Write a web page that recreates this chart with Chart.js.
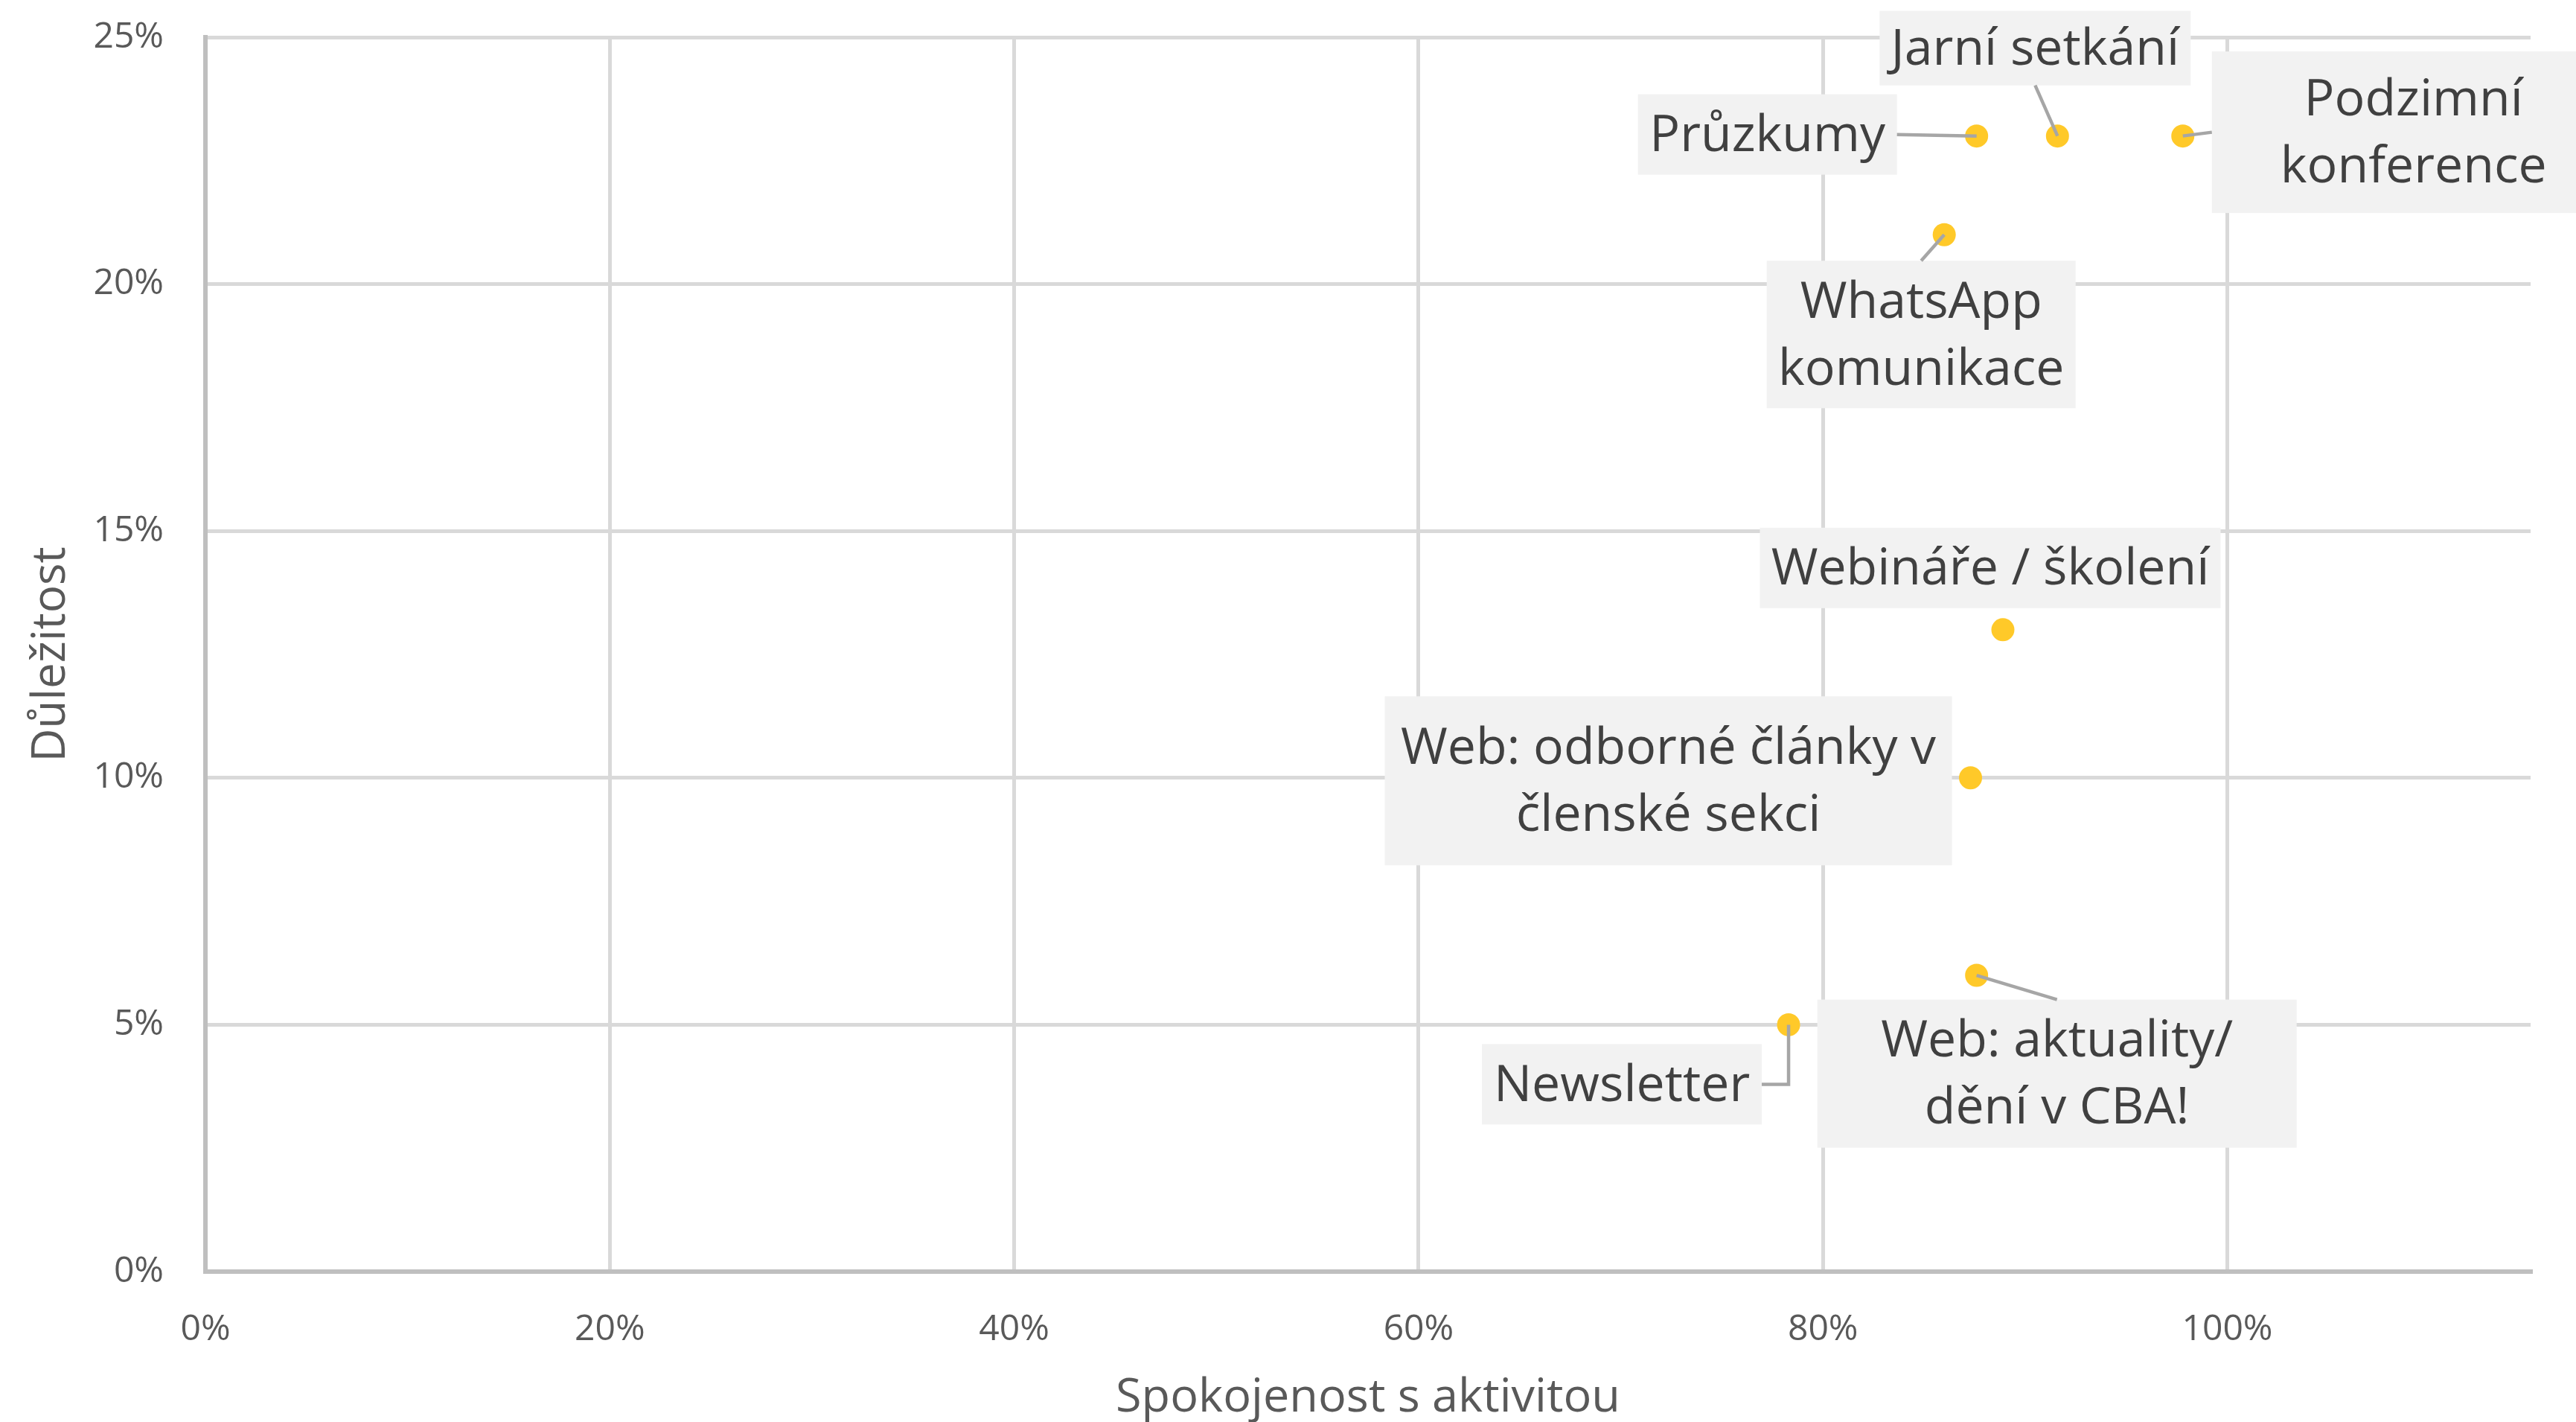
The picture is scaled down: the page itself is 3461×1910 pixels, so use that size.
<!DOCTYPE html>
<html>
<head>
<meta charset="utf-8">
<script src="https://cdn.jsdelivr.net/npm/chart.js@4.4.1/dist/chart.umd.min.js"></script>
<style>
  html, body { margin: 0; padding: 0; background: #ffffff; }
  canvas { display: block; }
</style>
</head>
<body>
<canvas id="c" width="3461" height="1910"></canvas>
<script>
// ---- data ----
const activities = [
  ['Průzkumy'],
  ['Jarní setkání'],
  ['Podzimní', 'konference'],
  ['WhatsApp', 'komunikace'],
  ['Webináře / školení'],
  ['Web: odborné články v', 'členské sekci'],
  ['Web: aktuality/', 'dění v CBA!'],
  ['Newsletter']
];
const satisfaction = [0.876, 0.916, 0.978, 0.860, 0.889, 0.873, 0.876, 0.783];
const importance   = [0.23, 0.23, 0.23, 0.21, 0.13, 0.10, 0.06, 0.05];
const xTicks = [0, 0.2, 0.4, 0.6, 0.8, 1.0];
const yTicks = [0, 0.05, 0.10, 0.15, 0.20, 0.25];
const xTitle = 'Spokojenost s aktivitou';
const yTitle = 'Důležitost';

// ---- callout layout (box size and offset of box centre from the point, px) ----
const calloutLayout = [
  { w: 348, h: 108, dx: -281, dy: -2,   leader: 'right' },
  { w: 418, h: 100, dx: -30,  dy: -118, leader: 'bottom' },
  { w: 542, h: 217, dx: 310,  dy: -5,   leader: 'left' },
  { w: 415, h: 198, dx: -31,  dy: 134,  leader: 'top' },
  { w: 619, h: 108, dx: -17,  dy: -83,  leader: null },
  { w: 762, h: 227, dx: -406, dy: 4,    leader: null },
  { w: 644, h: 199, dx: 108,  dy: 132,  leader: 'top' },
  { w: 376, h: 108, dx: -224, dy: 80,   leader: 'elbow' }
];

const FONT = "'Open Sans', 'Noto Sans', sans-serif";
const pct = v => Math.round(v * 100) + '%';

const calloutPlugin = {
  id: 'callouts',
  afterDatasetsDraw(chart) {
    const { ctx, scales: { x, y } } = chart;
    ctx.save();
    const fs = 68, lh = 90;
    activities.forEach((lines, i) => {
      const L = calloutLayout[i];
      const px = x.getPixelForValue(satisfaction[i]);
      const py = y.getPixelForValue(importance[i]);
      const cx = px + L.dx, cy = py + L.dy;
      const bx = cx - L.w / 2, by = cy - L.h / 2;
      ctx.fillStyle = '#F2F2F2';
      ctx.fillRect(bx, by, L.w, L.h);
      ctx.fillStyle = '#404040';
      ctx.font = `${fs}px ${FONT}`;
      ctx.textAlign = 'center';
      ctx.textBaseline = 'middle';
      lines.forEach((t, k) => {
        ctx.fillText(t, cx, cy + (k - (lines.length - 1) / 2) * lh + 3);
      });
      if (L.leader) {
        ctx.strokeStyle = '#A6A6A6';
        ctx.lineWidth = 4.5;
        ctx.beginPath();
        if (L.leader === 'right') { ctx.moveTo(bx + L.w, cy); ctx.lineTo(px, py); }
        else if (L.leader === 'left') { ctx.moveTo(bx, cy); ctx.lineTo(px, py); }
        else if (L.leader === 'bottom') { ctx.moveTo(cx, by + L.h); ctx.lineTo(px, py); }
        else if (L.leader === 'top') { ctx.moveTo(cx, by); ctx.lineTo(px, py); }
        else if (L.leader === 'elbow') { ctx.moveTo(bx + L.w, cy); ctx.lineTo(px, cy); ctx.lineTo(px, py); }
        ctx.stroke();
      }
    });
    ctx.restore();
  }
};

new Chart(document.getElementById('c'), {
  type: 'scatter',
  data: {
    datasets: [{
      label: 'Aktivity',
      data: satisfaction.map((v, i) => ({ x: v, y: importance[i] })),
      backgroundColor: '#FFC929',
      borderColor: '#FFC929',
      borderWidth: 0,
      pointRadius: 15.5,
      pointHoverRadius: 15.5
    }]
  },
  options: {
    responsive: false,
    devicePixelRatio: 1,
    animation: false,
    events: [],
    layout: { autoPadding: false, padding: { left: 0, top: 50, right: 61, bottom: 0 } },
    plugins: { legend: { display: false }, tooltip: { enabled: false } },
    scales: {
      x: {
        type: 'linear',
        min: 0, max: 1.15,
        afterFit: s => { s.height = 202; s.paddingLeft = 0; s.paddingRight = 0; },
        afterBuildTicks: s => { s.ticks = xTicks.map(v => ({ value: v })); },
        ticks: { stepSize: 0.2, includeBounds: false, padding: 50, color: '#595959',
                 font: { family: FONT, size: 48 }, callback: v => pct(v) },
        grid: { color: '#D9D9D9', lineWidth: 5, drawTicks: false },
        border: { color: '#BFBFBF', width: 6 },
        title: { display: true, text: xTitle, color: '#595959',
                 font: { family: FONT, size: 63, lineHeight: 1 }, padding: { top: 0, bottom: 0 } }
      },
      y: {
        type: 'linear',
        min: 0, max: 0.25,
        afterFit: s => { s.width = 276; s.paddingTop = 0; s.paddingBottom = 0; },
        afterBuildTicks: s => { s.ticks = yTicks.map(v => ({ value: v })); },
        ticks: { stepSize: 0.05, padding: 56, color: '#595959',
                 font: { family: FONT, size: 48 }, callback: v => pct(v) },
        grid: { color: '#D9D9D9', lineWidth: 5, drawTicks: false },
        border: { color: '#BFBFBF', width: 6 },
        title: { display: true, text: yTitle, color: '#595959',
                 font: { family: FONT, size: 62, lineHeight: 1 }, padding: { top: 38, bottom: 0 } }
      }
    }
  },
  plugins: [calloutPlugin]
});
</script>
</body>
</html>
